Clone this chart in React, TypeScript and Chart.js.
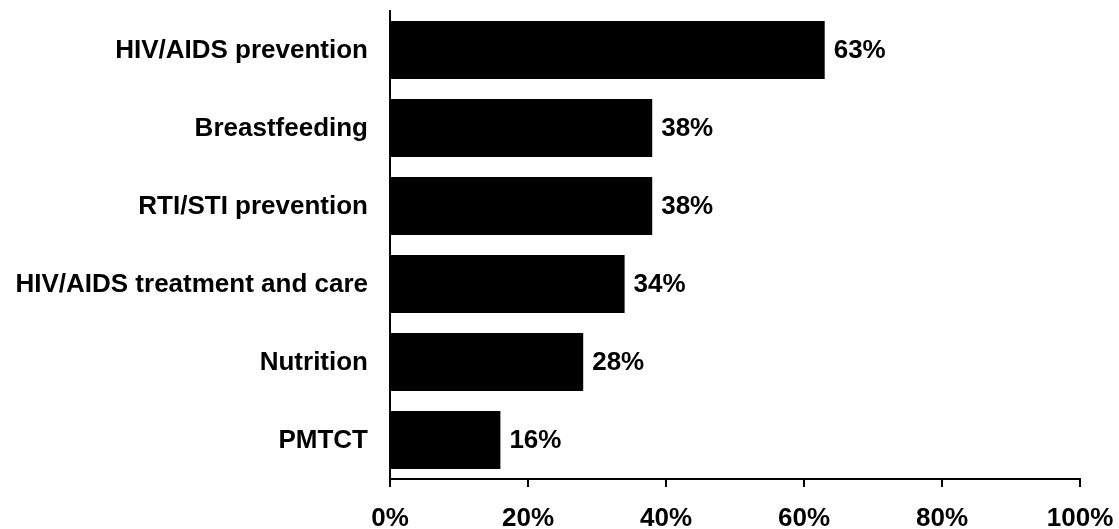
import React, { useEffect, useRef } from "react";
import { Chart, registerables } from "chart.js";

Chart.register(...registerables);

const categories = [
  "HIV/AIDS prevention",
  "Breastfeeding",
  "RTI/STI prevention",
  "HIV/AIDS treatment and care",
  "Nutrition",
  "PMTCT",
];
const values = [63, 38, 38, 34, 28, 16];
const tickValues = [0, 20, 40, 60, 80, 100];

const FONT = '"Liberation Sans", Arial, Helvetica, sans-serif';

const valueLabelPlugin = {
  id: "valueLabels",
  afterDatasetsDraw(chart: any) {
    const ctx = chart.ctx;
    const meta = chart.getDatasetMeta(0);
    ctx.save();
    ctx.font = `bold 26px ${FONT}`;
    ctx.fillStyle = "#000";
    ctx.textAlign = "left";
    ctx.textBaseline = "middle";
    meta.data.forEach((bar: any, i: number) => {
      ctx.fillText(`${values[i]}%`, bar.x + 9, bar.y + 1);
    });
    ctx.restore();
  },
};

export default function App() {
  const ref = useRef<HTMLCanvasElement>(null);
  useEffect(() => {
    if (!ref.current) return;
    const chart = new Chart(ref.current, {
      type: "bar",
      data: {
        labels: categories,
        datasets: [
          {
            data: values,
            backgroundColor: "#000",
            borderWidth: 0,
            barPercentage: 58 / 78,
            categoryPercentage: 1,
          },
        ],
      },
      options: {
        indexAxis: "y",
        animation: false,
        responsive: false,
        maintainAspectRatio: false,
        layout: { padding: { left: 0, right: 39, top: 11, bottom: 0 } },
        plugins: {
          legend: { display: false },
          tooltip: { enabled: false },
        },
        scales: {
          x: {
            min: 0,
            max: 100,
            afterFit(scale: any) {
              scale.height = 50;
              scale.paddingLeft = 0;
              scale.paddingRight = 0;
            },
            afterBuildTicks(scale: any) {
              scale.ticks = tickValues.map((v) => ({ value: v }));
            },
            ticks: {
              color: "#000",
              padding: 16,
              font: { family: FONT, size: 26, weight: "bold" },
              callback: (v: any) => `${v}%`,
            },
            grid: {
              display: true,
              drawOnChartArea: false,
              drawTicks: true,
              tickLength: 8,
              color: "#000",
              lineWidth: 2,
            },
            border: { display: true, color: "#000", width: 2 },
          },
          y: {
            afterFit(scale: any) {
              scale.width = 390;
              scale.paddingTop = 0;
              scale.paddingBottom = 0;
            },
            ticks: {
              color: "#000",
              padding: 22,
              labelOffset: 1,
              font: { family: FONT, size: 26, weight: "bold" },
            },
            grid: { display: false, drawTicks: false },
            border: { display: true, color: "#000", width: 2 },
          },
        },
      },
      plugins: [valueLabelPlugin],
    } as any);
    return () => chart.destroy();
  }, []);
  return (
    <div style={{ position: "absolute", left: 0, top: 0, width: 1119, height: 529, background: "#fff" }}>
      <canvas ref={ref} width={1119} height={529} style={{ width: 1119, height: 529 }} />
    </div>
  );
}
